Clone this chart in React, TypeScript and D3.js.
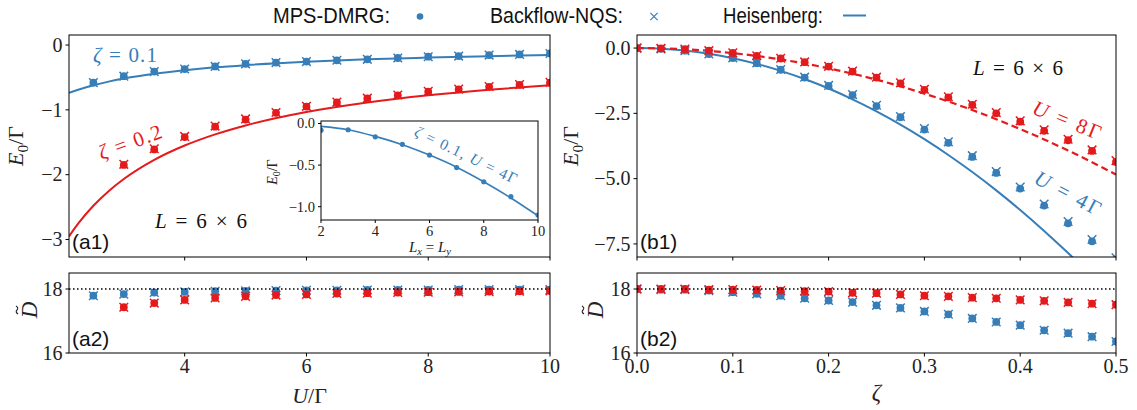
import React from 'react';
import * as d3 from 'd3';

const BLUE = '#377eb8';
const RED = '#e41a1c';
const SERIF = '"Liberation Serif", "DejaVu Serif", serif';
const SANS = '"Liberation Sans", "DejaVu Sans", sans-serif';

// ---- (a1)/(a2): energy and dimension vs U/Γ ----
const U_Z01 = [2.5, 3, 3.5, 4, 4.5, 5, 5.5, 6, 6.5, 7, 7.5, 8, 8.5, 9, 9.5, 10];
const U_Z02 = [3, 3.5, 4, 4.5, 5, 5.5, 6, 6.5, 7, 7.5, 8, 8.5, 9, 9.5, 10];
const E_DMRG_Z01 = [-0.58, -0.48, -0.41, -0.37, -0.33, -0.29, -0.27, -0.255, -0.235, -0.22, -0.2, -0.18, -0.17, -0.155, -0.145, -0.13];
const E_NQS_Z01 = [-0.58, -0.48, -0.41, -0.37, -0.33, -0.29, -0.27, -0.255, -0.235, -0.22, -0.2, -0.18, -0.17, -0.155, -0.145, -0.13];
const E_DMRG_Z02 = [-1.85, -1.61, -1.42, -1.26, -1.15, -1.045, -0.95, -0.885, -0.825, -0.775, -0.72, -0.685, -0.645, -0.615, -0.58];
const E_NQS_Z02 = [-1.84, -1.6, -1.41, -1.25, -1.14, -1.04, -0.945, -0.88, -0.82, -0.77, -0.715, -0.68, -0.64, -0.61, -0.575];
const U_HEIS = [2.1, 2.25, 2.5, 2.75, 3, 3.5, 4, 4.5, 5, 6, 7, 8, 9, 10];
const E_HEIS_Z01 = [-0.738, -0.689, -0.62, -0.564, -0.517, -0.443, -0.388, -0.344, -0.31, -0.258, -0.221, -0.194, -0.172, -0.155];
const E_HEIS_Z02 = [-2.952, -2.756, -2.48, -2.255, -2.067, -1.771, -1.55, -1.378, -1.24, -1.033, -0.886, -0.775, -0.689, -0.62];
const D_DMRG_Z01 = [17.79, 17.84, 17.89, 17.91, 17.93, 17.94, 17.95, 17.96, 17.96, 17.97, 17.97, 17.97, 17.98, 17.98, 17.98, 17.98];
const D_NQS_Z01 = [17.79, 17.84, 17.89, 17.91, 17.93, 17.94, 17.95, 17.96, 17.96, 17.97, 17.97, 17.97, 17.98, 17.98, 17.98, 17.98];
const D_DMRG_Z02 = [17.43, 17.56, 17.66, 17.72, 17.77, 17.81, 17.83, 17.86, 17.87, 17.89, 17.9, 17.91, 17.92, 17.93, 17.94];
const D_NQS_Z02 = [17.43, 17.56, 17.66, 17.72, 17.77, 17.81, 17.83, 17.86, 17.87, 17.89, 17.9, 17.91, 17.92, 17.93, 17.94];

// ---- inset: size scaling at ζ = 0.1, U = 4Γ ----
const L_SIDE = [2, 3, 4, 5, 6, 7, 8, 9, 10];
const E_DMRG_SIZE = [-0.08, -0.075, -0.16, -0.25, -0.38, -0.53, -0.7, -0.88, -1.1];
const E_HEIS_SIZE = [-0.035, -0.075, -0.155, -0.255, -0.38, -0.525, -0.7, -0.895, -1.11];

// ---- (b1)/(b2): energy and dimension vs ζ ----
const ZETA = [0, 0.025, 0.05, 0.075, 0.1, 0.125, 0.15, 0.175, 0.2, 0.225, 0.25, 0.275, 0.3, 0.325, 0.35, 0.375, 0.4, 0.425, 0.45, 0.475, 0.5];
const E_DMRG_U4 = [0, -0.03, -0.1, -0.23, -0.38, -0.58, -0.83, -1.13, -1.45, -1.8, -2.22, -2.65, -3.12, -3.63, -4.17, -4.78, -5.38, -6.03, -6.71, -7.4, -8.1];
const E_NQS_U4 = [0, -0.03, -0.1, -0.225, -0.375, -0.57, -0.82, -1.115, -1.43, -1.78, -2.19, -2.62, -3.08, -3.59, -4.12, -4.73, -5.32, -5.97, -6.64, -7.33, -8.03];
const E_DMRG_U8 = [0, -0.01, -0.04, -0.1, -0.19, -0.3, -0.4, -0.54, -0.71, -0.9, -1.13, -1.35, -1.6, -1.89, -2.18, -2.5, -2.82, -3.17, -3.53, -3.94, -4.36];
const E_NQS_U8 = [0, -0.01, -0.04, -0.1, -0.185, -0.295, -0.39, -0.53, -0.7, -0.885, -1.115, -1.33, -1.58, -1.865, -2.15, -2.47, -2.785, -3.13, -3.49, -3.9, -4.31];
const E_HEIS_U4 = [0, -0.024, -0.097, -0.218, -0.388, -0.605, -0.872, -1.187, -1.55, -1.962, -2.422, -2.93, -3.488, -4.093, -4.747, -5.449, -6.2, -7.0, -7.847, -8.743, -9.688];
const E_HEIS_U8 = [0, -0.012, -0.048, -0.109, -0.194, -0.303, -0.436, -0.593, -0.775, -0.981, -1.211, -1.465, -1.744, -2.046, -2.373, -2.725, -3.1, -3.5, -3.923, -4.371, -4.844];
const D_DMRG_U4 = [18, 17.98, 17.98, 17.95, 17.9, 17.85, 17.79, 17.71, 17.64, 17.59, 17.49, 17.41, 17.3, 17.21, 17.08, 16.97, 16.87, 16.71, 16.62, 16.51, 16.36];
const D_NQS_U4 = [18, 17.98, 17.98, 17.95, 17.9, 17.85, 17.79, 17.71, 17.64, 17.59, 17.49, 17.41, 17.3, 17.21, 17.08, 16.97, 16.87, 16.71, 16.62, 16.51, 16.36];
const D_DMRG_U8 = [18, 18, 18, 17.98, 17.98, 17.97, 17.95, 17.93, 17.92, 17.88, 17.87, 17.83, 17.79, 17.77, 17.73, 17.71, 17.66, 17.63, 17.58, 17.54, 17.51];
const D_NQS_U8 = [18, 18, 18, 17.98, 17.98, 17.97, 17.95, 17.93, 17.92, 17.88, 17.87, 17.83, 17.79, 17.77, 17.73, 17.71, 17.66, 17.63, 17.58, 17.54, 17.51];

// tick values
const A_Y1_TICKS = [0, -1, -2, -3];
const A_X_TICKS = [4, 6, 8, 10];
const D_TICKS = [16, 18];
const B_Y1_TICKS = [0, -2.5, -5, -7.5];
const B_X_TICKS = [0, 0.1, 0.2, 0.3, 0.4, 0.5];
const IN_X_TICKS = [2, 4, 6, 8, 10];
const IN_Y_TICKS = [0, -0.5, -1];

type Sc = d3.ScaleLinear<number, number>;

function crossPath(cx: number, cy: number, s: number) {
  return `M${cx - s},${cy - s}L${cx + s},${cy + s}M${cx - s},${cy + s}L${cx + s},${cy - s}`;
}

function Dots({ xs, ys, x, y, color, r = 3.9 }: { xs: number[]; ys: number[]; x: Sc; y: Sc; color: string; r?: number }) {
  return (
    <g fill={color}>
      {ys.map((v, i) => (
        <circle key={i} cx={x(xs[i])} cy={y(v)} r={r} />
      ))}
    </g>
  );
}

function Crosses({ xs, ys, x, y, color, s = 4.3, w = 1.5 }: { xs: number[]; ys: number[]; x: Sc; y: Sc; color: string; s?: number; w?: number }) {
  const d = ys.map((v, i) => crossPath(x(xs[i]), y(v), s)).join('');
  return <path d={d} stroke={color} strokeWidth={w} fill="none" />;
}

function Curve({ xs, ys, x, y, color, w = 2, dash }: { xs: number[]; ys: number[]; x: Sc; y: Sc; color: string; w?: number; dash?: string }) {
  const gen = d3
    .line<number>()
    .x((_, i) => x(xs[i]))
    .y((d) => y(d))
    .curve(d3.curveMonotoneX);
  return <path d={gen(ys) || ''} stroke={color} strokeWidth={w} fill="none" strokeDasharray={dash} />;
}

function Axes({
  id, x, y, xTicks, yTicks, xFmt, yFmt, fs = 20, tick = 3.5, bg, children,
}: {
  id: string; x: Sc; y: Sc; xTicks: number[]; yTicks: number[];
  xFmt?: (v: number) => string; yFmt?: (v: number) => string;
  fs?: number; tick?: number; bg?: boolean; children?: React.ReactNode;
}) {
  const [x0, x1] = x.range();
  const [yb, yt] = y.range();
  return (
    <g>
      <defs>
        <clipPath id={id}>
          <rect x={x0} y={yt} width={x1 - x0} height={yb - yt} />
        </clipPath>
      </defs>
      {bg && <rect x={x0} y={yt} width={x1 - x0} height={yb - yt} fill="#fff" />}
      <g clipPath={`url(#${id})`}>{children}</g>
      <rect x={x0} y={yt} width={x1 - x0} height={yb - yt} fill="none" stroke="#000" strokeWidth={1} />
      {xTicks.map((t) => (
        <g key={'x' + t}>
          <line x1={x(t)} x2={x(t)} y1={yb} y2={yb + tick} stroke="#000" strokeWidth={1} />
          {xFmt && (
            <text x={x(t)} y={yb + tick + 3 + fs * 0.68} textAnchor="middle" fontSize={fs} fontFamily={SERIF} fill="#222">
              {xFmt(t)}
            </text>
          )}
        </g>
      ))}
      {yTicks.map((t) => (
        <g key={'y' + t}>
          <line x1={x0 - tick} x2={x0} y1={y(t)} y2={y(t)} stroke="#000" strokeWidth={1} />
          {yFmt && (
            <text x={x0 - tick - 3} y={y(t)} dy="0.34em" textAnchor="end" fontSize={fs} fontFamily={SERIF} fill="#222">
              {yFmt(t)}
            </text>
          )}
        </g>
      ))}
    </g>
  );
}

function EnergyLabel({ cx, cy, fs = 22 }: { cx: number; cy: number; fs?: number }) {
  return (
    <text transform={`translate(${cx},${cy}) rotate(-90)`} textAnchor="middle" fontSize={fs} fontFamily={SERIF} fill="#222">
      <tspan fontStyle="italic">E</tspan>
      <tspan fontSize={fs * 0.7} dy={fs * 0.22}>0</tspan>
      <tspan dy={-fs * 0.22}>/Γ</tspan>
    </text>
  );
}

function DimLabel({ cx, cy }: { cx: number; cy: number }) {
  return (
    <g transform={`translate(${cx},${cy}) rotate(-90)`}>
      <text x={0} y={0} dy="0.34em" textAnchor="middle" fontSize={23} fontStyle="italic" fontFamily={SERIF} fill="#222">
        D
      </text>
      <path d="M-4,-11 q2,-3 4,-1 t4,-1" stroke="#222" strokeWidth={1.1} fill="none" />
    </g>
  );
}

function PanelTag({ x, y, label }: { x: number; y: number; label: string }) {
  return (
    <text x={x} y={y} fontSize={21} fontFamily={SANS} fill="#111">
      {label}
    </text>
  );
}

export default function App() {
  const xa = d3.scaleLinear().domain([2.1, 10]).range([69, 550]);
  const ya1 = d3.scaleLinear().domain([-3.27, 0.155]).range([257, 35]);
  const ya2 = d3.scaleLinear().domain([16, 18.5]).range([353, 273]);
  const xb = d3.scaleLinear().domain([0, 0.5]).range([637, 1116]);
  const yb1 = d3.scaleLinear().domain([-8, 0.5]).range([257, 35]);
  const yb2 = d3.scaleLinear().domain([16, 18.5]).range([353, 273]);
  const xi = d3.scaleLinear().domain([2, 10]).range([321, 538]);
  const yi = d3.scaleLinear().domain([-1.16, 0.03]).range([220, 121]);

  const fInt = d3.format('d');
  const f1 = d3.format('.1f');

  return (
    <svg width={1137} height={410} style={{ position: 'absolute', left: 0, top: 0, background: '#fff' }}>
      {/* legend */}
      <g fontFamily={SANS} fontSize={22} fill="#111">
        <text x={273} y={23} textLength={117} lengthAdjust="spacingAndGlyphs">MPS-DMRG:</text>
        <circle cx={420} cy={16.5} r={3.3} fill={BLUE} />
        <text x={490} y={23} textLength={133} lengthAdjust="spacingAndGlyphs">Backflow-NQS:</text>
        <path d={crossPath(654, 16.5, 3.6)} stroke={BLUE} strokeWidth={1.2} fill="none" />
        <text x={723} y={23} textLength={100} lengthAdjust="spacingAndGlyphs">Heisenberg:</text>
        <line x1={843} x2={866} y1={15.5} y2={15.5} stroke={BLUE} strokeWidth={2} />
      </g>

      {/* (a1) */}
      <Axes id="clip-a1" x={xa} y={ya1} xTicks={A_X_TICKS} yTicks={A_Y1_TICKS} yFmt={fInt}>
        <Curve xs={U_HEIS} ys={E_HEIS_Z01} x={xa} y={ya1} color={BLUE} />
        <Curve xs={U_HEIS} ys={E_HEIS_Z02} x={xa} y={ya1} color={RED} />
        <Dots xs={U_Z01} ys={E_DMRG_Z01} x={xa} y={ya1} color={BLUE} />
        <Crosses xs={U_Z01} ys={E_NQS_Z01} x={xa} y={ya1} color={BLUE} />
        <Dots xs={U_Z02} ys={E_DMRG_Z02} x={xa} y={ya1} color={RED} />
        <Crosses xs={U_Z02} ys={E_NQS_Z02} x={xa} y={ya1} color={RED} />
      </Axes>
      <EnergyLabel cx={23} cy={146} />
      <text x={93} y={62} fontSize={21} fontFamily={SERIF} fill={BLUE} textLength={64}>
        <tspan fontStyle="italic">ζ</tspan> = 0.1
      </text>
      <text transform="translate(130,142) rotate(-20)" dy="0.34em" textAnchor="middle" fontSize={21} fontFamily={SERIF} fill={RED} textLength={66}>
        <tspan fontStyle="italic">ζ</tspan> = 0.2
      </text>
      <text x={201} y={228} textAnchor="middle" fontSize={21} fontFamily={SERIF} fill="#111" textLength={92}>
        <tspan fontStyle="italic">L</tspan> = 6 × 6
      </text>
      <PanelTag x={72} y={249} label="(a1)" />

      {/* inset */}
      <Axes id="clip-in" x={xi} y={yi} xTicks={IN_X_TICKS} yTicks={IN_Y_TICKS} xFmt={fInt} yFmt={f1} fs={14.5} tick={3} bg>
        <Curve xs={L_SIDE} ys={E_HEIS_SIZE} x={xi} y={yi} color={BLUE} w={1.6} />
        <Dots xs={L_SIDE} ys={E_DMRG_SIZE} x={xi} y={yi} color={BLUE} r={2.6} />
      </Axes>
      <EnergyLabel cx={277} cy={172} fs={14} />
      <text x={430} y={252} textAnchor="middle" fontSize={15} fontFamily={SERIF} fill="#222">
        <tspan fontStyle="italic">L</tspan>
        <tspan fontSize={10.5} dy={3} fontStyle="italic">x</tspan>
        <tspan dy={-3}> = </tspan>
        <tspan fontStyle="italic">L</tspan>
        <tspan fontSize={10.5} dy={3} fontStyle="italic">y</tspan>
      </text>
      <text transform="translate(466,155) rotate(26)" dy="0.34em" textAnchor="middle" fontSize={15.5} fontFamily={SERIF} fill={BLUE} textLength={112}>
        <tspan fontStyle="italic">ζ</tspan> = 0.1, <tspan fontStyle="italic">U</tspan> = 4Γ
      </text>

      {/* (a2) */}
      <Axes id="clip-a2" x={xa} y={ya2} xTicks={A_X_TICKS} yTicks={D_TICKS} xFmt={fInt} yFmt={fInt}>
        <Dots xs={U_Z01} ys={D_DMRG_Z01} x={xa} y={ya2} color={BLUE} />
        <Crosses xs={U_Z01} ys={D_NQS_Z01} x={xa} y={ya2} color={BLUE} />
        <Dots xs={U_Z02} ys={D_DMRG_Z02} x={xa} y={ya2} color={RED} />
        <Crosses xs={U_Z02} ys={D_NQS_Z02} x={xa} y={ya2} color={RED} />
        <line x1={69} x2={550} y1={ya2(18)} y2={ya2(18)} stroke="#000" strokeWidth={1.3} strokeDasharray="1.5,2.5" />
      </Axes>
      <DimLabel cx={29} cy={310} />
      <PanelTag x={72} y={346} label="(a2)" />
      <text x={309.5} y={403} textAnchor="middle" fontSize={22} fontFamily={SERIF} fill="#222">
        <tspan fontStyle="italic">U</tspan>/Γ
      </text>

      {/* (b1) */}
      <Axes id="clip-b1" x={xb} y={yb1} xTicks={B_X_TICKS} yTicks={B_Y1_TICKS} yFmt={f1}>
        <Curve xs={ZETA} ys={E_HEIS_U4} x={xb} y={yb1} color={BLUE} />
        <Curve xs={ZETA} ys={E_HEIS_U8} x={xb} y={yb1} color={RED} w={2.2} dash="7,4" />
        <Dots xs={ZETA} ys={E_DMRG_U4} x={xb} y={yb1} color={BLUE} />
        <Crosses xs={ZETA} ys={E_NQS_U4} x={xb} y={yb1} color={BLUE} />
        <Dots xs={ZETA} ys={E_DMRG_U8} x={xb} y={yb1} color={RED} />
        <Crosses xs={ZETA} ys={E_NQS_U8} x={xb} y={yb1} color={RED} />
      </Axes>
      <EnergyLabel cx={578} cy={146} />
      <text x={1018} y={75} textAnchor="middle" fontSize={21} fontFamily={SERIF} fill="#111" textLength={90}>
        <tspan fontStyle="italic">L</tspan> = 6 × 6
      </text>
      <text transform="translate(1067,120) rotate(22)" dy="0.34em" textAnchor="middle" fontSize={21} fontFamily={SERIF} fill={RED} textLength={72}>
        <tspan fontStyle="italic">U</tspan> = 8Γ
      </text>
      <text transform="translate(1068,193) rotate(28)" dy="0.34em" textAnchor="middle" fontSize={21} fontFamily={SERIF} fill={BLUE} textLength={72}>
        <tspan fontStyle="italic">U</tspan> = 4Γ
      </text>
      <PanelTag x={640} y={249} label="(b1)" />

      {/* (b2) */}
      <Axes id="clip-b2" x={xb} y={yb2} xTicks={B_X_TICKS} yTicks={D_TICKS} xFmt={f1} yFmt={fInt}>
        <Dots xs={ZETA} ys={D_DMRG_U4} x={xb} y={yb2} color={BLUE} />
        <Crosses xs={ZETA} ys={D_NQS_U4} x={xb} y={yb2} color={BLUE} />
        <Dots xs={ZETA} ys={D_DMRG_U8} x={xb} y={yb2} color={RED} />
        <Crosses xs={ZETA} ys={D_NQS_U8} x={xb} y={yb2} color={RED} />
        <line x1={637} x2={1116} y1={yb2(18)} y2={yb2(18)} stroke="#000" strokeWidth={1.3} strokeDasharray="1.5,2.5" />
      </Axes>
      <DimLabel cx={595} cy={310} />
      <PanelTag x={640} y={346} label="(b2)" />
      <text x={876.5} y={400} textAnchor="middle" fontSize={23} fontStyle="italic" fontFamily={SERIF} fill="#222">
        ζ
      </text>
    </svg>
  );
}
